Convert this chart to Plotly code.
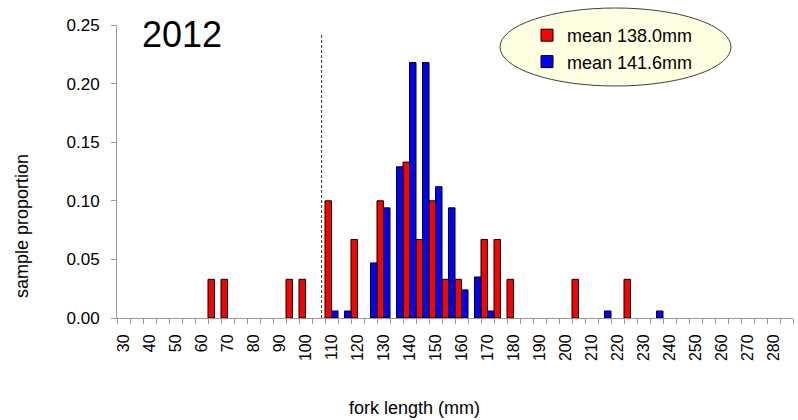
import plotly.graph_objects as go

# ---- data ----
year_label = "2012"
length_bins = list(range(30, 290, 5))          # 30 .. 285 mm categories
tick_values = list(range(30, 290, 10))         # labelled every 10 mm
tick_labels = [str(v) for v in tick_values]

red_name = "mean 138.0mm"
red_x = [65, 70, 95, 100, 110, 120, 130, 140, 145, 150, 155, 160, 170, 175, 180, 205, 225]
red_y = [0.033, 0.033, 0.033, 0.033, 0.100, 0.067, 0.100, 0.133, 0.067, 0.100,
         0.033, 0.033, 0.067, 0.067, 0.033, 0.033, 0.033]

blue_name = "mean 141.6mm"
blue_x = [110, 115, 125, 130, 135, 140, 145, 150, 155, 160, 165, 170, 215, 235]
blue_y = [0.006, 0.006, 0.047, 0.094, 0.129, 0.218, 0.218, 0.112, 0.094, 0.024,
          0.035, 0.006, 0.006, 0.006]

size_limit_mm = 106.2
y_ticks = [0.00, 0.05, 0.10, 0.15, 0.20, 0.25]

# ---- figure ----
W, H = 798, 420
L, R, T, B = 117, 5, 25, 102
pw, ph = W - L - R, H - T - B
bin_w = 5

def px_x(px):
    return (px - L) / pw

def px_y(py):
    return (H - B - py) / ph

FONT = "Liberation Sans, Arial, sans-serif"

fig = go.Figure()
fig.add_trace(go.Bar(
    x=red_x, y=red_y, name=red_name, width=bin_w / 2, offset=-bin_w / 2,
    marker=dict(color="#FF0000", line=dict(color="#000000", width=1)),
))
fig.add_trace(go.Bar(
    x=blue_x, y=blue_y, name=blue_name, width=bin_w / 2, offset=0,
    marker=dict(color="#0000FF", line=dict(color="#000000", width=1)),
))

fig.update_layout(
    width=W, height=H,
    margin=dict(l=L, r=R, t=T, b=B),
    paper_bgcolor="white",
    plot_bgcolor="rgba(0,0,0,0)",
    barmode="overlay",
    font=dict(family=FONT, size=16, color="black"),
    showlegend=True,
    legend=dict(
        x=px_x(527), y=px_y(17), xanchor="left", yanchor="top",
        bgcolor="rgba(0,0,0,0)", font=dict(size=18),
        traceorder="normal",
    ),
    xaxis=dict(
        range=[length_bins[0] - bin_w / 2, length_bins[-1] + bin_w / 2],
        tickmode="array", tickvals=tick_values, ticktext=tick_labels,
        tickangle=-90, ticks="outside", ticklen=9, tickcolor="rgba(0,0,0,0)",
        showline=True, linecolor="#999999", linewidth=1,
        showgrid=False, zeroline=False,
        minor=dict(tick0=length_bins[0] - bin_w / 2, dtick=bin_w, ticks="outside",
                   ticklen=5, tickcolor="#999999", showgrid=False),
        tickfont=dict(size=16),
    ),
    yaxis=dict(
        range=[0, 0.25], tickmode="array", tickvals=y_ticks,
        ticktext=[f"{v:.2f}" for v in y_ticks],
        ticks="outside", ticklen=5, tickcolor="#999999", ticklabelstandoff=8,
        showline=True, linecolor="#999999", linewidth=1,
        showgrid=False, zeroline=False, tickfont=dict(size=17),
    ),
    shapes=[
        dict(type="circle", xref="paper", yref="paper",
             x0=px_x(500), x1=px_x(731), y0=px_y(86), y1=px_y(8),
             fillcolor="#FFFFE1", line=dict(color="#404040", width=1), layer="below"),
        dict(type="line", xref="x", yref="y", x0=size_limit_mm, x1=size_limit_mm,
             y0=0, y1=0.242, line=dict(color="#333333", width=1, dash="3px,2px")),
    ],
    annotations=[
        dict(text=year_label, xref="paper", yref="paper", x=px_x(182), y=px_y(34),
             showarrow=False, font=dict(size=36), xanchor="center", yanchor="middle"),
        dict(text="sample proportion", xref="paper", yref="paper", x=px_x(22), y=px_y(226),
             showarrow=False, textangle=-90, font=dict(size=18),
             xanchor="center", yanchor="middle"),
        dict(text="fork length (mm)", xref="paper", yref="paper", x=px_x(414), y=px_y(408),
             showarrow=False, font=dict(size=18), xanchor="center", yanchor="middle"),
    ],
)

fig.write_html("out.html")
